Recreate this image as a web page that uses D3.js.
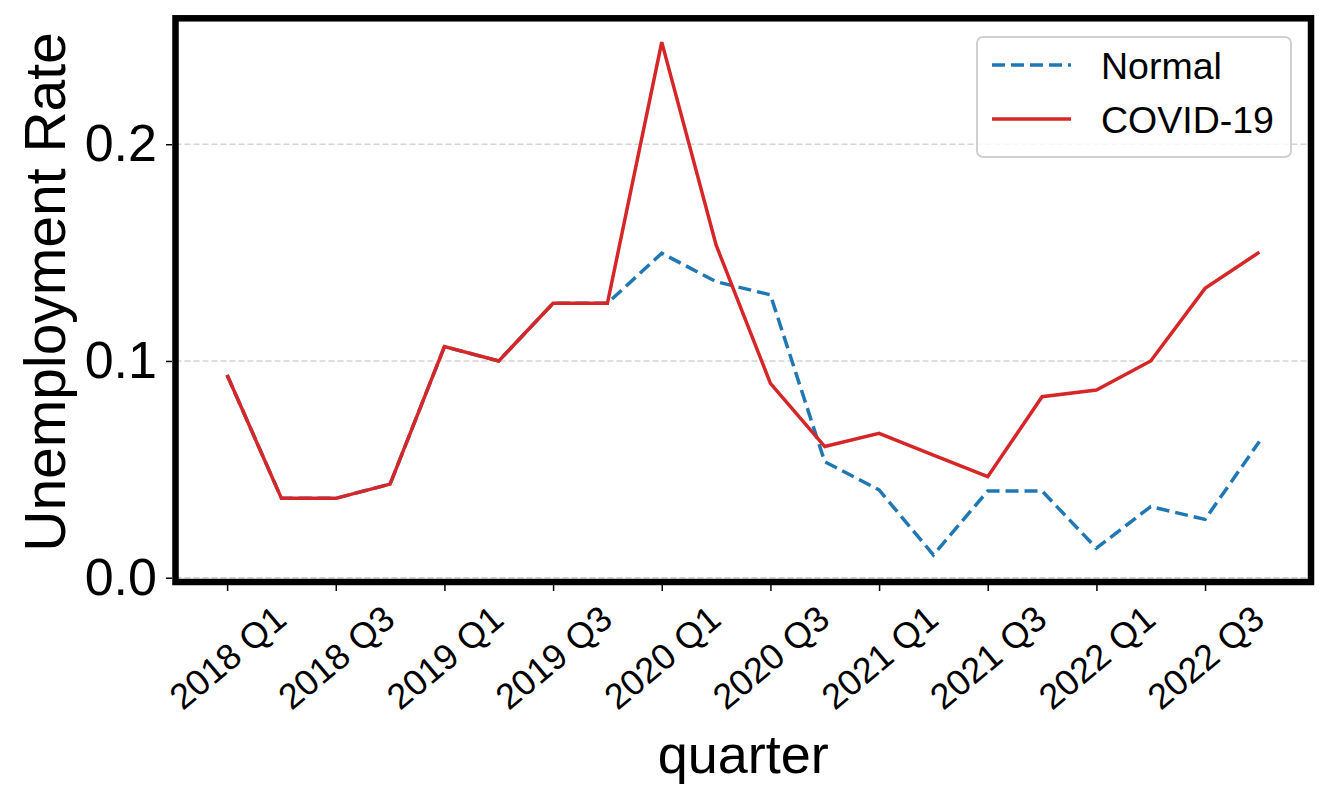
<!DOCTYPE html>
<html>
<head>
<meta charset="utf-8">
<script src="https://cdn.jsdelivr.net/npm/d3@7"></script>
<style>
  body { margin: 0; background: #fff; }
  svg { font-family: "Liberation Sans", Arial, Helvetica, sans-serif; }
</style>
</head>
<body>
<svg id="chart" width="1328" height="800"></svg>
<script>
// quarters on the x axis
let quarters = ["2018 Q1","2018 Q2","2018 Q3","2018 Q4",
                "2019 Q1","2019 Q2","2019 Q3","2019 Q4",
                "2020 Q1","2020 Q2","2020 Q3","2020 Q4",
                "2021 Q1","2021 Q2","2021 Q3","2021 Q4",
                "2022 Q1","2022 Q2","2022 Q3","2022 Q4"]
let xTickLabels = ["2018 Q1","2018 Q3","2019 Q1","2019 Q3","2020 Q1",
                   "2020 Q3","2021 Q1","2021 Q3","2022 Q1","2022 Q3"]
let yTickValues = [0.0, 0.1, 0.2]

let normalRate = [0.0935,0.0366,0.0366,0.0432,0.1066,0.1000,0.1266,0.1266,0.1497,0.1366,
                  0.1305,0.0535,0.0405,0.0105,0.0400,0.0400,0.0136,0.0328,0.0269,0.0628]
let covidRate  = [0.0935,0.0366,0.0366,0.0432,0.1066,0.1000,0.1266,0.1266,0.2471,0.1535,
                  0.0897,0.0605,0.0666,0.0566,0.0466,0.0835,0.0866,0.1000,0.1335,0.1502]

let series = [
  {name: "Normal", values: normalRate, color: "#1f77b4", dash: "13,6"},
  {name: "COVID-19", values: covidRate, color: "#d62728", dash: null}
]

var svg = d3.select("#chart")

let plotLeft = 175.5, plotRight = 1311, plotTop = 18.3, plotBottom = 582

let x = d3.scalePoint().domain(quarters).range([plotLeft, plotRight]).padding(0.95)
let y = d3.scaleLinear().domain([0, 0.2581]).range([577.7, plotTop])

// grid
svg.append("g")
  .selectAll("line")
  .data(yTickValues)
  .enter()
  .append("line")
  .attr("x1", plotLeft).attr("x2", plotRight)
  .attr("y1", d => y(d)).attr("y2", d => y(d))
  .attr("stroke", "#d4d4d4")
  .attr("stroke-width", 1.5)
  .attr("stroke-dasharray", "6,3")

// lines
let line = d3.line()
  .x((d, i) => x(quarters[i]))
  .y(d => y(d))

svg.append("g")
  .selectAll("path")
  .data(series)
  .enter()
  .append("path")
  .attr("d", d => line(d.values))
  .attr("fill", "none")
  .attr("stroke", d => d.color)
  .attr("stroke-width", 3.5)
  .attr("stroke-dasharray", d => d.dash)

// frame
svg.append("rect")
  .attr("x", plotLeft).attr("y", plotTop)
  .attr("width", plotRight - plotLeft).attr("height", plotBottom - plotTop)
  .attr("fill", "none")
  .attr("stroke", "#000")
  .attr("stroke-width", 6.5)

// y axis
let yAxis = svg.append("g")
  .attr("transform", "translate(172,0)")
  .call(d3.axisLeft(y).tickValues(yTickValues).tickFormat(d3.format(".1f"))
        .tickSize(6).tickSizeOuter(0).tickPadding(9))
yAxis.select(".domain").remove()
yAxis.selectAll("line").attr("stroke-width", 1.5)
yAxis.selectAll("text").attr("font-size", 52).attr("fill", "#000")
  .attr("font-family", "Liberation Sans, Arial, sans-serif")

// x axis, labels rotated 40 degrees and centred under the tick
let xFont = 36
let xAxis = svg.append("g")
  .attr("transform", "translate(0,585)")
  .call(d3.axisBottom(x).tickValues(xTickLabels).tickSize(6).tickSizeOuter(0))
xAxis.select(".domain").remove()
xAxis.selectAll("line").attr("stroke-width", 1.5)
xAxis.selectAll("text")
  .attr("font-size", xFont)
  .attr("fill", "#000")
  .attr("font-family", "Liberation Sans, Arial, sans-serif")
  .attr("text-anchor", "middle")
  .attr("dy", null)
  .attr("dominant-baseline", "central")
  .each(function(d) {
    let len = this.getComputedTextLength()
    let a = 40 * Math.PI / 180
    let h = len * Math.sin(a) + xFont * 0.72 * Math.cos(a)
    d3.select(this).attr("y", 0).attr("transform", "translate(0," + (18 + h / 2) + ") rotate(-40)")
  })

// axis titles
svg.append("text")
  .attr("x", (plotLeft + plotRight) / 2)
  .attr("y", 773)
  .attr("text-anchor", "middle")
  .attr("font-size", 54)
  .text("quarter")

svg.append("text")
  .attr("transform", "translate(65,292) rotate(-90)")
  .attr("text-anchor", "middle")
  .attr("font-size", 57)
  .text("Unemployment Rate")

// legend
let legend = svg.append("g")
legend.append("rect")
  .attr("x", 977).attr("y", 37)
  .attr("width", 314).attr("height", 120)
  .attr("rx", 6)
  .attr("fill", "#fff").attr("fill-opacity", 0.8)
  .attr("stroke", "#d0d0d0").attr("stroke-width", 2)

let items = legend.selectAll(".item")
  .data(series)
  .enter()
  .append("g")
  .attr("class", "item")
  .attr("transform", (d, i) => "translate(0," + (65 + i * 54) + ")")

items.append("line")
  .attr("x1", 992).attr("x2", 1071)
  .attr("stroke", d => d.color)
  .attr("stroke-width", 3.5)
  .attr("stroke-dasharray", d => d.dash)

items.append("text")
  .attr("x", 1101)
  .attr("y", 14)
  .attr("font-size", 37.5)
  .text(d => d.name)
</script>
</body>
</html>
